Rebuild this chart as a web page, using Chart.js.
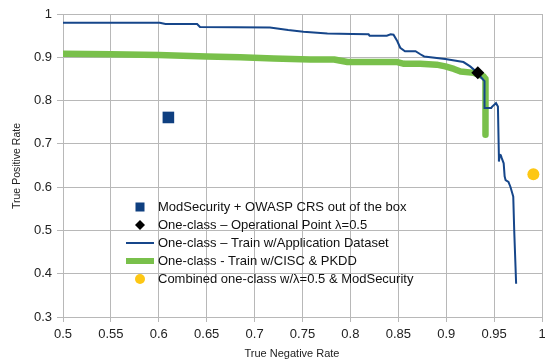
<!DOCTYPE html>
<html>
<head>
<meta charset="utf-8">
<script src="https://cdn.jsdelivr.net/npm/chart.js@4.4.1/dist/chart.umd.min.js"></script>
<style>
	html, body { margin: 0; padding: 0; background: #ffffff; }
	#wrap { position: relative; width: 545px; height: 360px; }
</style>
</head>
<body>
<div id="wrap"><canvas id="rocChart" width="545" height="360"></canvas></div>
<script>
	// One-class - Train w/Application Dataset (TNR, TPR)
	var appTNR = [0.500, 0.601, 0.607, 0.640, 0.643, 0.716, 0.735, 0.751, 0.776, 0.802, 0.819, 0.820, 0.838, 0.842, 0.845, 0.849,
		0.852, 0.857, 0.868, 0.873, 0.877, 0.899, 0.918, 0.925, 0.933, 0.937, 0.940, 0.940, 0.947, 0.948, 0.952, 0.954,
		0.955, 0.955, 0.956, 0.957, 0.958, 0.960, 0.961, 0.962, 0.965, 0.967, 0.969, 0.970, 0.971, 0.973];
	var appTPR = [0.980, 0.980, 0.977, 0.977, 0.970, 0.969, 0.963, 0.959, 0.955, 0.954, 0.953, 0.950, 0.950, 0.953, 0.952, 0.937,
		0.922, 0.914, 0.914, 0.907, 0.902, 0.896, 0.889, 0.879, 0.864, 0.852, 0.845, 0.783, 0.783, 0.786, 0.794, 0.786,
		0.670, 0.659, 0.675, 0.674, 0.667, 0.655, 0.625, 0.616, 0.612, 0.601, 0.586, 0.578, 0.500, 0.377];

	// One-class - Train w/CISC & PKDD (TNR, TPR)
	var ciscTNR = [0.500, 0.550, 0.600, 0.650, 0.685, 0.720, 0.758, 0.783, 0.790, 0.797, 0.849, 0.856, 0.873, 0.890, 0.899,
		0.908, 0.915, 0.929, 0.939, 0.941, 0.941];
	var ciscTPR = [0.908, 0.907, 0.905, 0.902, 0.900, 0.897, 0.895, 0.895, 0.892, 0.889, 0.889, 0.885, 0.885, 0.883, 0.879,
		0.873, 0.867, 0.864, 0.856, 0.850, 0.721];

	// single points [TNR, TPR]
	var modSecPoint = [0.610, 0.761];
	var operationalPoint = [0.933, 0.864];
	var combinedPoint = [0.991, 0.630];

	var seriesLabels = [
		"ModSecurity + OWASP CRS out of the box",
		"One-class \u2013 Operational Point \u03bb=0.5",
		"One-class \u2013 Train w/Application Dataset",
		"One-class - Train w/CISC & PKDD",
		"Combined one-class w/\u03bb=0.5 & ModSecurity"
	];

	var xTicks = [0.5, 0.55, 0.6, 0.65, 0.7, 0.75, 0.8, 0.85, 0.9, 0.95, 1];
	var yTicks = [0.3, 0.4, 0.5, 0.6, 0.7, 0.8, 0.9, 1];

	function toXY(xs, ys){
		var out = [];
		for(var i = 0; i < xs.length; i++){
			out.push({x: xs[i], y: ys[i]});
		}
		return out;
	}

	var blueLine = "#16468a";
	var greenLine = "#79c04b";
	var navy = "#0f3f80";
	var yellow = "#fdc714";
	var gridGrey = "#b8b8b8";
	var font = "'Liberation Sans', Arial, sans-serif";

	// legend inside the plot + axis titles, drawn by hand
	var overlayPlugin = {
		id: "overlay",
		afterDraw: function(chart){
			var ctx = chart.ctx;
			ctx.save();
			var rows = [207, 225, 243, 261, 279];
			var symX = 140, textX = 158;
			ctx.font = "13px " + font;
			ctx.textBaseline = "middle";
			ctx.textAlign = "left";
			ctx.fillStyle = "#111";
			for(var i = 0; i < seriesLabels.length; i++){
				ctx.fillText(seriesLabels[i], textX, rows[i]);
			}
			// symbols
			ctx.fillStyle = navy;
			ctx.fillRect(symX - 4.5, rows[0] - 4.5, 9, 9);
			ctx.fillStyle = "#000";
			ctx.beginPath();
			ctx.moveTo(symX, rows[1] - 5);
			ctx.lineTo(symX + 5, rows[1]);
			ctx.lineTo(symX, rows[1] + 5);
			ctx.lineTo(symX - 5, rows[1]);
			ctx.closePath();
			ctx.fill();
			ctx.strokeStyle = blueLine;
			ctx.lineWidth = 2;
			ctx.beginPath();
			ctx.moveTo(126, rows[2]);
			ctx.lineTo(154, rows[2]);
			ctx.stroke();
			ctx.strokeStyle = greenLine;
			ctx.lineWidth = 6;
			ctx.beginPath();
			ctx.moveTo(126, rows[3]);
			ctx.lineTo(154, rows[3]);
			ctx.stroke();
			ctx.fillStyle = yellow;
			ctx.beginPath();
			ctx.arc(symX, rows[4], 5, 0, Math.PI * 2);
			ctx.fill();

			// axis titles
			ctx.fillStyle = "#222";
			ctx.font = "11px " + font;
			ctx.textAlign = "center";
			ctx.fillText("True Negative Rate", 292, 354);
			ctx.translate(17, 166);
			ctx.rotate(-Math.PI / 2);
			ctx.font = "10.5px " + font;
			ctx.fillText("True Positive Rate", 0, 0);
			ctx.restore();
		}
	};

	var ctx = document.getElementById("rocChart");
	var rocChart = new Chart(ctx, {
		type: "scatter",
		data: {
			datasets: [
				{
					label: seriesLabels[1],
					data: [{x: operationalPoint[0], y: operationalPoint[1]}],
					pointStyle: "rectRot",
					pointRadius: 6.5,
					backgroundColor: "#000",
					borderColor: "#000",
					borderWidth: 0
				},
				{
					label: seriesLabels[0],
					data: [{x: modSecPoint[0], y: modSecPoint[1]}],
					pointStyle: "rect",
					pointRadius: 8.2,
					backgroundColor: navy,
					borderColor: navy,
					borderWidth: 0
				},
				{
					label: seriesLabels[4],
					data: [{x: combinedPoint[0], y: combinedPoint[1]}],
					pointStyle: "circle",
					pointRadius: 6,
					backgroundColor: yellow,
					borderColor: yellow,
					borderWidth: 0
				},
				{
					label: seriesLabels[2],
					data: toXY(appTNR, appTPR),
					showLine: true,
					borderColor: blueLine,
					borderWidth: 2,
					pointRadius: 0,
					tension: 0
				},
				{
					label: seriesLabels[3],
					data: toXY(ciscTNR, ciscTPR),
					showLine: true,
					borderColor: greenLine,
					borderWidth: 6.5,
					borderJoinStyle: "round",
					pointRadius: 0,
					tension: 0
				}
			]
		},
		options: {
			responsive: false,
			animation: false,
			events: [],
			// no automatic padding for the big point markers, plot runs almost to the right edge
			layout: { autoPadding: false, padding: { top: 14, right: 0, bottom: 0, left: 0 } },
			plugins: {
				legend: { display: false },
				tooltip: { enabled: false }
			},
			scales: {
				x: {
					type: "linear",
					min: 0.5,
					max: 1,
					afterBuildTicks: function(scale){
						scale.ticks = xTicks.map(function(v){ return {value: v}; });
					},
					afterFit: function(scale){
						scale.height = 43;
						// the "1" label may hang over the right edge a little, as in the original
						scale.paddingRight = 3;
						scale.paddingLeft = 0;
					},
					ticks: {
						color: "#222",
						font: { family: font, size: 13 },
						padding: 5,
						maxRotation: 0,
						callback: function(v){ return String(+v.toFixed(2)); }
					},
					grid: { color: gridGrey, tickLength: 5, lineWidth: 1 },
					border: { color: gridGrey }
				},
				y: {
					type: "linear",
					min: 0.3,
					max: 1,
					afterBuildTicks: function(scale){
						scale.ticks = yTicks.map(function(v){ return {value: v}; });
					},
					afterFit: function(scale){ scale.width = 63; },
					ticks: {
						color: "#222",
						font: { family: font, size: 13 },
						padding: 5,
						callback: function(v){ return String(+v.toFixed(2)); }
					},
					grid: { color: gridGrey, tickLength: 6, lineWidth: 1 },
					border: { color: gridGrey }
				}
			}
		},
		plugins: [overlayPlugin]
	});
</script>
</body>
</html>
